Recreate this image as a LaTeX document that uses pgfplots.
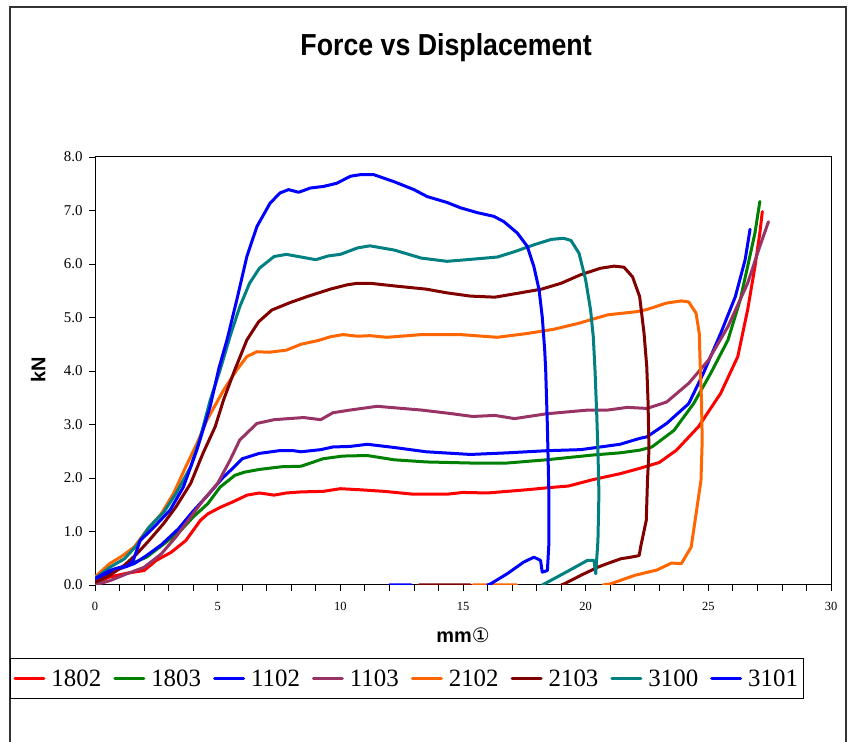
\documentclass[border=0pt]{standalone}
\usepackage{fontspec}
\usepackage{pgfplots}
\pgfplotsset{compat=1.18}
\setmainfont{Liberation Serif}
\newfontfamily\arialfont{Liberation Sans}
\newfontfamily\titlefont[FakeStretch=0.88]{Liberation Sans}
\newfontfamily\symfont{DejaVu Sans}
\definecolor{cred}{RGB}{255,0,0}
\definecolor{cgreen}{RGB}{0,128,0}
\definecolor{cblue}{RGB}{0,0,255}
\definecolor{cpurple}{RGB}{153,51,102}
\definecolor{corange}{RGB}{255,102,0}
\definecolor{cdred}{RGB}{128,0,0}
\definecolor{cteal}{RGB}{0,128,128}
\begin{document}
\begin{tikzpicture}[x=1bp,y=1bp]
\useasboundingbox (0,0) rectangle (854,742);
\draw[line width=1.3bp, black!80] (10,-2) -- (10,735) -- (846,735) -- (846,-2);
\begin{axis}[
  at={(95bp,157bp)}, anchor=south west,
  scale only axis, width=736bp, height=428bp,
  xmin=0, xmax=30, ymin=0, ymax=8,
  xtick={0,5,...,30}, minor x tick num=4,
  ytick={0,1,...,8},
  tick align=outside, tick pos=left,
  major tick length=6bp, minor tick length=6bp,
  every tick/.style={black, line width=0.8bp},
  axis line style={line width=1bp},
  /pgf/number format/assume math mode=true,
  yticklabel style={/pgf/number format/fixed, /pgf/number format/fixed zerofill, /pgf/number format/precision=1},
  x tick label style={font=\fontsize{12.5}{12.5}\selectfont, yshift=-8bp},
  y tick label style={font=\fontsize{15}{15}\selectfont, xshift=-3bp},
  unbounded coords=jump,
  no markers,
  every axis plot/.append style={line width=3bp, line join=round, line cap=round},
  title={Force vs Displacement},
  title style={at={(axis description cs:0.477,1.224)}, anchor=base, font=\titlefont\bfseries\fontsize{30.5}{30.5}\selectfont},
  xlabel={{\arialfont\bfseries mm}{\symfont ①}},
  xlabel style={at={(axis description cs:0.5,-0.1355)}, anchor=base, font=\fontsize{20}{20}\selectfont},
  ylabel={\arialfont\bfseries kN},
  ylabel style={at={(axis description cs:-0.0774,0.502)}, anchor=center, font=\fontsize{20}{20}\selectfont},
  legend columns=8,
  legend style={at={(axis description cs:-0.1155,-0.1706)}, anchor=north west, draw=black, line width=1bp,
    font=\fontsize{25}{25}\selectfont, inner xsep=3bp, inner ysep=9bp,
    /tikz/every even column/.append style={column sep=10bp},
    /tikz/every odd column/.append style={column sep=4bp}},
  legend cell align=left,
  legend image code/.code={\draw[#1, line width=3bp, line cap=round] (0bp,0bp) -- (29bp,0bp);},
]
% 1802
\addplot[cred] coordinates {(0,0.03)(0.6,0.15)(1.3,0.22)(2.0,0.27)(2.5,0.46)(3.1,0.61)(3.7,0.83)(4.3,1.21)(4.6,1.33)(5.1,1.45)(5.6,1.55)(6.2,1.68)(6.7,1.72)(7.3,1.68)(7.8,1.72)(8.4,1.74)(9.3,1.75)(10.0,1.80)(10.8,1.78)(11.8,1.75)(12.9,1.70)(14.4,1.70)(15.0,1.73)(16.0,1.72)(17.6,1.78)(18.5,1.82)(19.3,1.85)(20.3,1.97)(21.4,2.08)(22.2,2.18)(23.0,2.29)(23.7,2.52)(24.6,2.96)(25.5,3.58)(26.2,4.27)(26.6,5.14)(26.9,5.95)(27.1,6.58)(27.2,6.98)};
\addlegendentry{1802}
% 1803
\addplot[cgreen] coordinates {(0,0.02)(0.9,0.30)(1.6,0.42)(2.1,0.52)(2.9,0.80)(3.5,1.02)(4.0,1.27)(4.6,1.52)(5.1,1.83)(5.7,2.05)(6.1,2.11)(6.7,2.16)(7.6,2.21)(8.4,2.22)(9.3,2.36)(10.1,2.41)(11.1,2.42)(12.2,2.34)(13.5,2.30)(15.3,2.28)(16.8,2.28)(18.4,2.34)(20.3,2.43)(21.4,2.47)(22.2,2.52)(22.7,2.58)(23.6,2.89)(24.4,3.39)(25.1,3.96)(25.8,4.58)(26.3,5.33)(26.6,5.95)(26.9,6.58)(27.1,7.17)};
\addlegendentry{1803}
% 1102
\addplot[cblue] coordinates {(0,0.05)(0.5,0.2)(1.0,0.3)(1.6,0.4)(2.1,0.55)(2.7,0.75)(3.4,1.05)(4.0,1.38)(4.6,1.68)(5.2,2.0)(5.7,2.22)(6.0,2.36)(6.7,2.46)(7.5,2.51)(8.1,2.51)(8.4,2.49)(9.2,2.53)(9.7,2.58)(10.4,2.59)(11.1,2.63)(12.2,2.57)(13.5,2.49)(15.3,2.44)(16.8,2.47)(18.4,2.51)(19.8,2.53)(20.6,2.58)(21.4,2.63)(22.2,2.74)(22.5,2.77)(23.3,3.02)(24.2,3.39)(24.8,3.96)(25.5,4.70)(26.1,5.39)(26.5,6.08)(26.7,6.65)};
\addlegendentry{1102}
% 1103
\addplot[cpurple] coordinates {(0,0)(0.6,0.08)(1.3,0.21)(2.0,0.33)(2.7,0.58)(3.3,0.90)(3.9,1.27)(4.4,1.58)(5.0,1.90)(5.5,2.33)(5.9,2.71)(6.6,3.02)(7.3,3.09)(8.5,3.13)(9.2,3.09)(9.7,3.22)(10.4,3.27)(11.5,3.34)(13.3,3.27)(14.4,3.21)(15.4,3.15)(16.3,3.17)(17.1,3.11)(18.4,3.20)(20.1,3.27)(20.9,3.27)(21.7,3.32)(22.5,3.30)(23.3,3.42)(24.2,3.77)(25.0,4.20)(25.8,4.83)(26.6,5.64)(27.1,6.33)(27.45,6.79)};
\addlegendentry{1103}
% 2102
\addplot[corange] coordinates {(0,0.15)(0.6,0.40)(1.1,0.54)(1.6,0.71)(2.1,1.02)(2.7,1.33)(3.2,1.71)(3.7,2.21)(4.15,2.64)(4.56,3.08)(5.24,3.64)(5.78,4.02)(6.19,4.27)(6.6,4.36)(7.1,4.35)(7.8,4.39)(8.4,4.50)(9.1,4.57)(9.6,4.64)(10.1,4.68)(10.7,4.65)(11.2,4.66)(11.9,4.63)(13.3,4.68)(14.9,4.68)(16.4,4.63)(17.6,4.70)(18.7,4.78)(19.7,4.89)(20.9,5.05)(22.1,5.11)(22.5,5.15)(23.3,5.27)(23.9,5.31)(24.2,5.29)(24.5,5.08)(24.63,4.70)(24.67,4.08)(24.72,3.46)(24.75,2.7)(24.7,1.96)(24.5,1.33)(24.3,0.71)(23.9,0.40)(23.5,0.41)(22.9,0.28)(22.0,0.18)(21.0,0.02)(20.7,0)(19,nan)(17.2,0)(15.4,0)};
\addlegendentry{2102}
% 2103
\addplot[cdred] coordinates {(0,0.05)(0.6,0.18)(1.2,0.37)(1.7,0.58)(2.2,0.83)(2.8,1.15)(3.3,1.46)(3.9,1.90)(4.4,2.46)(4.9,2.96)(5.24,3.46)(5.68,4.0)(6.19,4.58)(6.67,4.92)(7.21,5.14)(7.96,5.28)(8.64,5.39)(9.59,5.53)(10.27,5.61)(10.7,5.64)(11.2,5.64)(12.2,5.59)(13.5,5.53)(14.35,5.46)(15.3,5.40)(16.3,5.38)(17.2,5.45)(18.2,5.53)(19.0,5.64)(19.8,5.80)(20.6,5.92)(21.16,5.96)(21.56,5.94)(21.91,5.76)(22.2,5.39)(22.38,4.70)(22.49,4.08)(22.54,3.46)(22.58,2.52)(22.52,1.96)(22.47,1.21)(22.24,0.71)(22.18,0.55)(21.84,0.52)(21.43,0.49)(20.88,0.40)(20.48,0.33)(19.8,0.18)(19.12,0.02)(19.0,0)(17,nan)(15.3,0)(13.2,0)};
\addlegendentry{2103}
% 3100
\addplot[cteal] coordinates {(0,0.12)(0.6,0.33)(1.2,0.49)(1.7,0.74)(2.2,1.08)(2.8,1.36)(3.3,1.71)(3.9,2.21)(4.3,2.77)(4.7,3.46)(5.1,4.02)(5.5,4.64)(5.9,5.20)(6.3,5.64)(6.7,5.92)(7.3,6.14)(7.8,6.18)(8.4,6.13)(9.0,6.08)(9.5,6.15)(10.0,6.18)(10.7,6.30)(11.2,6.34)(12.2,6.26)(13.3,6.11)(14.35,6.05)(15.4,6.09)(16.4,6.13)(17.1,6.23)(17.9,6.36)(18.6,6.46)(19.1,6.48)(19.4,6.44)(19.73,6.20)(20.0,5.70)(20.2,5.14)(20.31,4.64)(20.38,4.02)(20.45,3.2)(20.5,2.5)(20.54,1.71)(20.5,0.83)(20.41,0.21)(20.34,0.46)(20.07,0.46)(19.52,0.32)(18.84,0.15)(18.23,0)};
\addlegendentry{3100}
% 3101
\addplot[cblue] coordinates {(0,0.12)(0.6,0.27)(1.0,0.33)(1.3,0.35)(1.56,0.46)(1.84,0.83)(2.4,1.08)(3.06,1.40)(3.6,1.83)(4.15,2.52)(4.69,3.33)(5.05,4.05)(5.38,4.58)(5.78,5.33)(6.19,6.14)(6.6,6.70)(7.14,7.14)(7.55,7.33)(7.89,7.39)(8.3,7.34)(8.78,7.42)(9.32,7.45)(9.86,7.51)(10.41,7.64)(10.82,7.67)(11.36,7.67)(12.18,7.54)(13.0,7.39)(13.54,7.26)(14.35,7.15)(14.9,7.05)(15.58,6.96)(16.26,6.89)(16.67,6.79)(17.21,6.58)(17.62,6.33)(17.89,5.95)(18.1,5.52)(18.23,5.01)(18.33,4.39)(18.37,4.02)(18.44,2.96)(18.5,1.71)(18.5,0.77)(18.44,0.27)(18.23,0.24)(18.16,0.46)(17.89,0.52)(17.62,0.46)(17.48,0.43)(16.8,0.21)(16.12,0.02)(16.0,0)(14,nan)(12.9,0)(12.0,0)};
\addlegendentry{3101}
\end{axis}
\end{tikzpicture}
\end{document}
